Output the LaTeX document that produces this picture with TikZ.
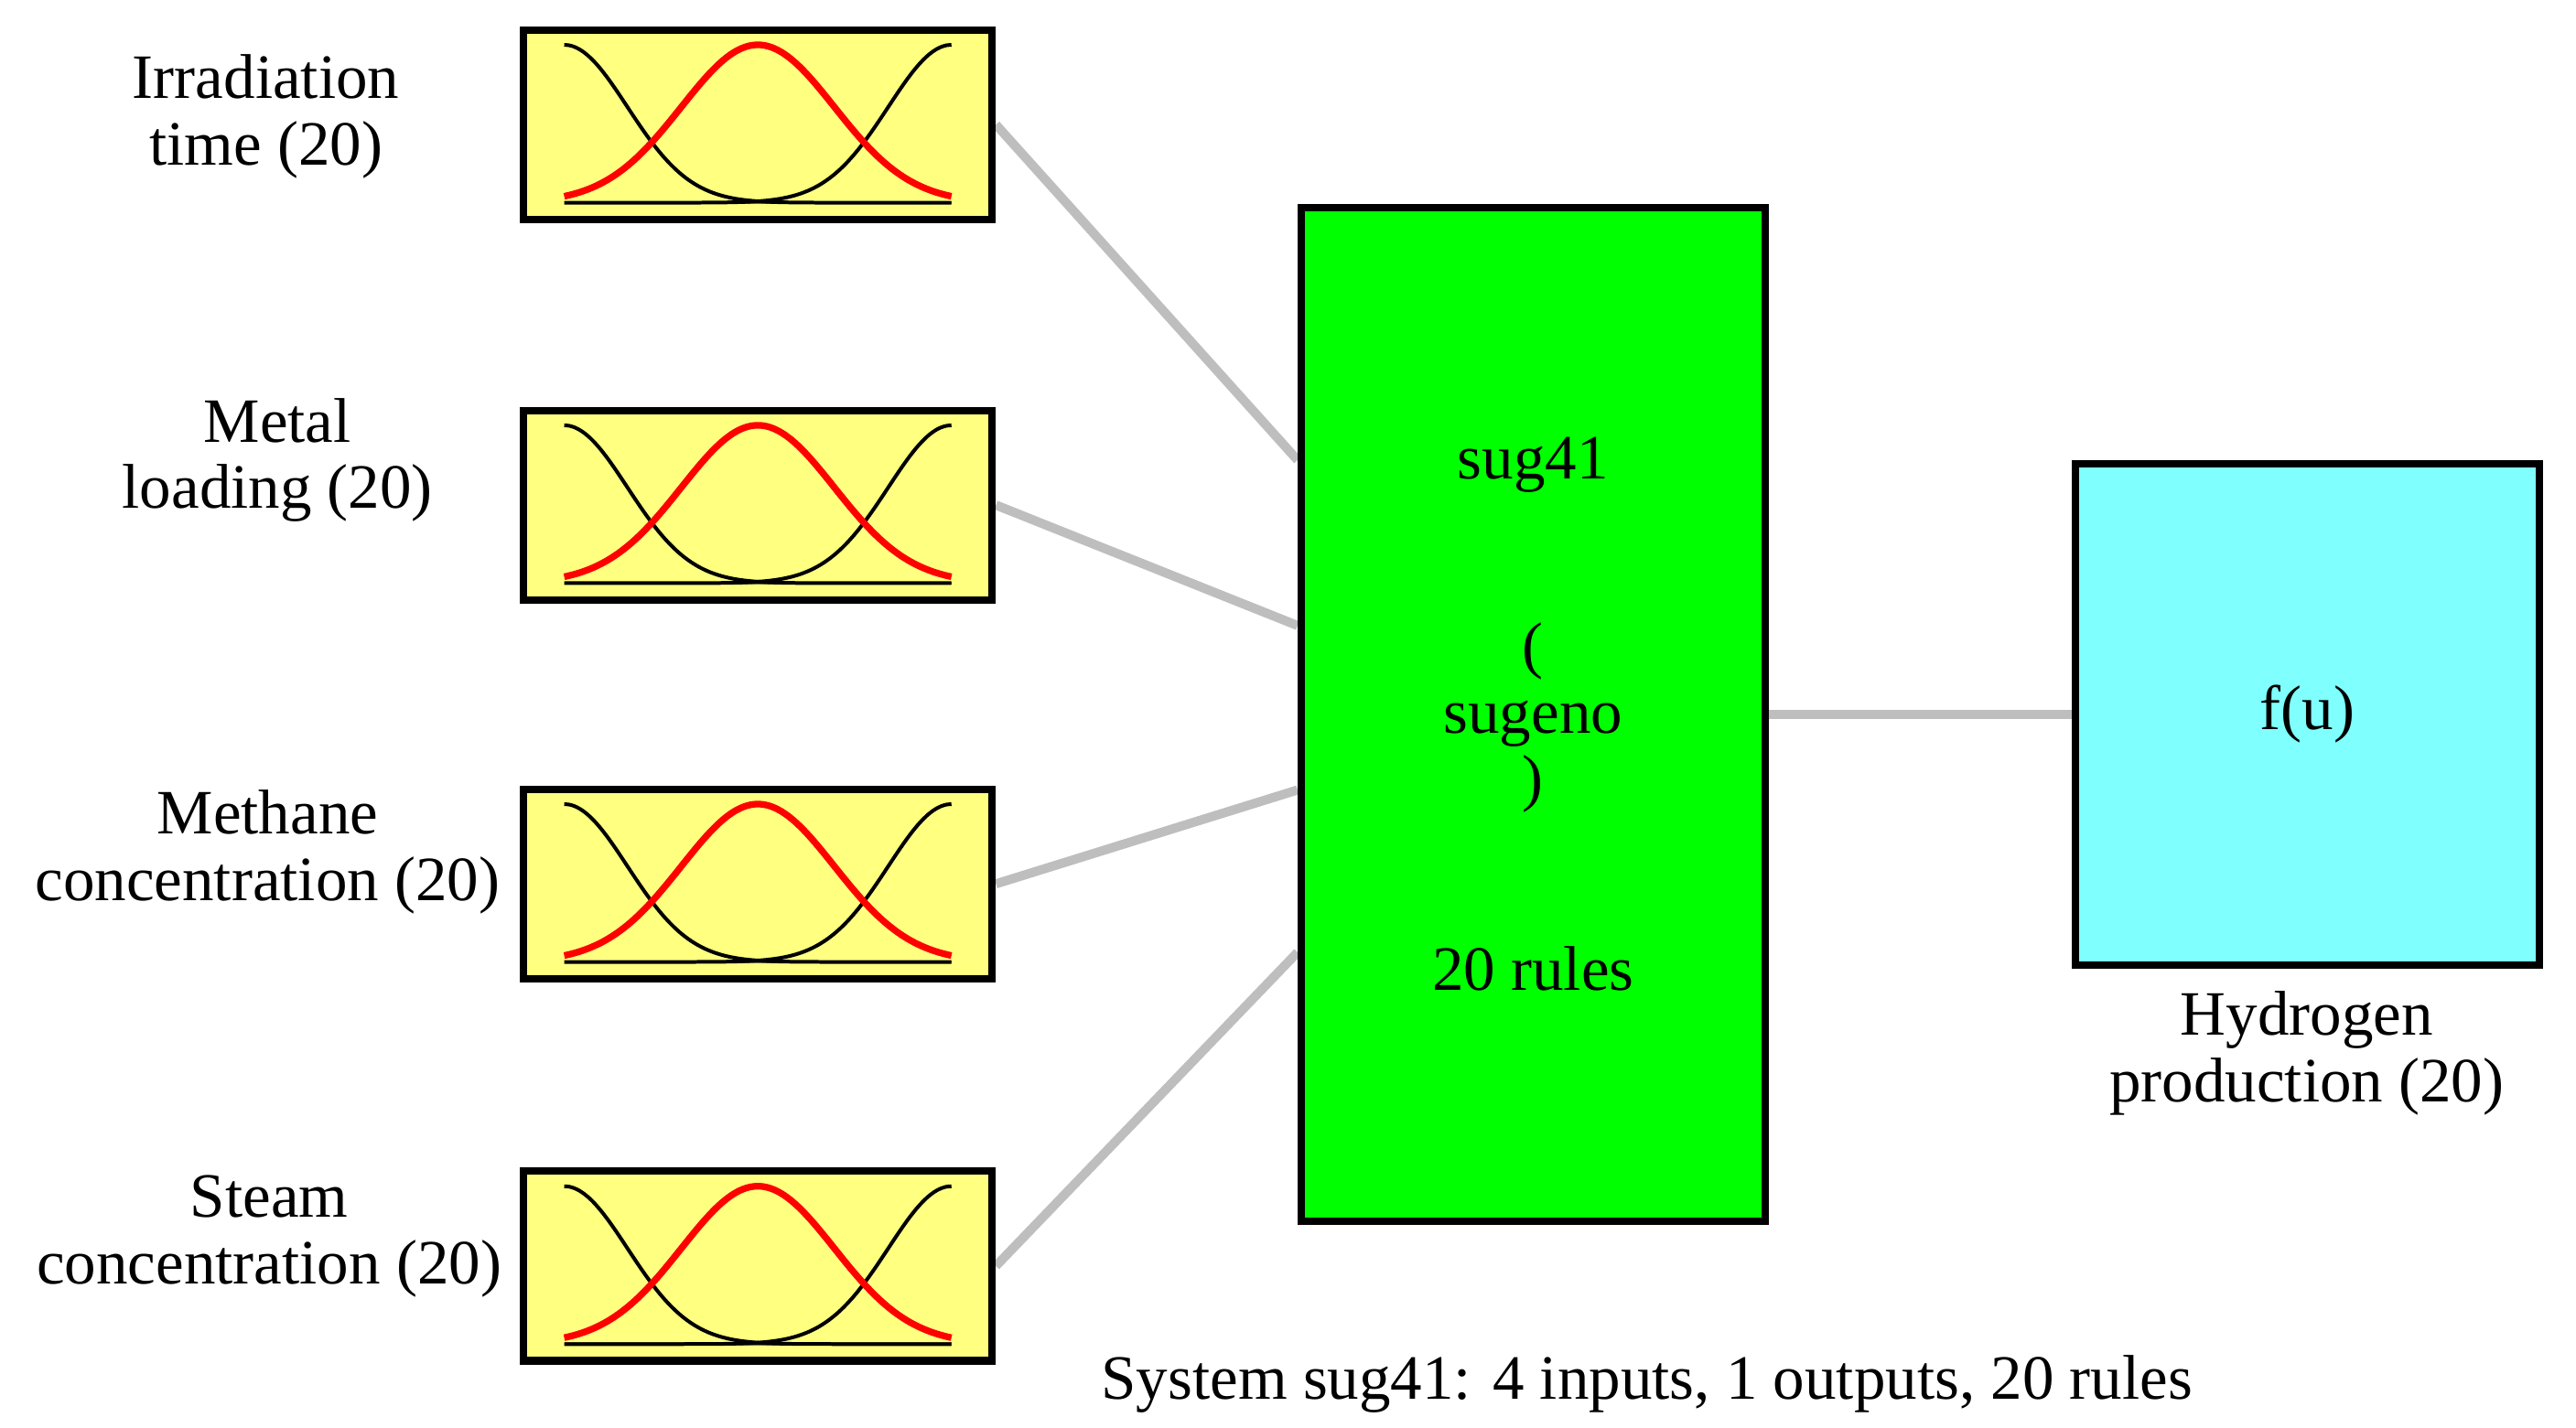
\documentclass[tikz,border=0pt]{standalone}
\usepackage{fontspec}
\setmainfont{Liberation Serif}
\usetikzlibrary{calc,backgrounds}
\definecolor{mfyellow}{RGB}{255,255,128}
\definecolor{fisgreen}{RGB}{0,255,0}
\definecolor{outcyan}{RGB}{128,255,255}
\definecolor{linkgray}{RGB}{190,190,190}
\definecolor{baseolive}{RGB}{120,120,60}
\tikzset{
  inbox/.style={draw=black, line width=4.5pt, fill=mfyellow, minimum width=282pt, minimum height=114pt, inner sep=0pt},
  fisbox/.style={draw=black, line width=4.5pt, fill=fisgreen, minimum width=279pt, minimum height=610pt, inner sep=0pt},
  outbox/.style={draw=black, line width=4.5pt, fill=outcyan, minimum width=279pt, minimum height=302pt, inner sep=0pt},
  lbl/.style={align=center, font=\fontsize{38}{40}\selectfont, inner sep=0pt},
  link/.style={draw=linkgray, line width=5.5pt},
  redmf/.style={draw=red, line width=4pt},
  blackmf/.style={draw=black, line width=2.2pt},
  basemf/.style={draw=baseolive, line width=2pt}
}
\newcommand{\mfcurves}[1]{%
  \begin{scope}[shift={(#1.center)}]
    \draw[basemf] (-116.5,47) -- (116.5,47);
    \draw[blackmf] plot[domain=-1:1, samples=80, smooth] ({116.5*\x}, {47-95*exp(-((\x+1)*(\x+1))/0.213)});
    \draw[blackmf] plot[domain=-1:1, samples=80, smooth] ({116.5*\x}, {47-95*exp(-((\x-1)*(\x-1))/0.213)});
    \draw[redmf] plot[domain=-1:1, samples=80, smooth] ({116.5*\x}, {47-95*exp(-(\x*\x)/0.312)});
  \end{scope}}
\begin{document}
\begin{tikzpicture}[x=1pt, y=-1pt]
  \useasboundingbox (0,0) rectangle (1550,859);
  % input boxes
  \node[inbox] (in1) at (456,75) {};
  \node[inbox] (in2) at (456,304) {};
  \node[inbox] (in3) at (456,532) {};
  \node[inbox] (in4) at (456,762) {};
  \mfcurves{in1}
  \mfcurves{in2}
  \mfcurves{in3}
  \mfcurves{in4}
  % input labels
  \node[lbl] (l1) at (160,70) {Irradiation\\time (20)};
  \node[lbl] (l2) at (167,277) {Metal\\loading (20)};
  \node[lbl] (l3) at (161,513) {Methane\\concentration (20)};
  \node[lbl] (l4) at (162,744) {Steam\\concentration (20)};
  % FIS box
  \node[fisbox] (fis) at (922.5,430) {};
  \node[lbl] (t1) at ($(fis.center)+(0,-150)$) {sug41};
  \node[lbl] (t2) at ($(fis.center)+(0,2)$) {(\\sugeno\\)};
  \node[lbl] (t3) at ($(fis.center)+(0,153)$) {20 rules};
  % output box
  \node[outbox] (out) at (1388.5,430) {};
  \node[lbl] (fu) at (out.center) {f(u)};
  \node[lbl] (ol) at (1388,634) {Hydrogen\\production (20)};
  % caption
  \node[lbl] (cap) at (991,833) {System sug41: 4 inputs, 1 outputs, 20 rules};
  % connectors
  \coordinate (p1) at ($(fis.north west)!0.251!(fis.south west)$);
  \coordinate (p2) at ($(fis.north west)!0.413!(fis.south west)$);
  \coordinate (p3) at ($(fis.north west)!0.574!(fis.south west)$);
  \coordinate (p4) at ($(fis.north west)!0.733!(fis.south west)$);
  \begin{scope}[on background layer]
    \draw[link] (in1.east) -- (p1);
    \draw[link] (in2.east) -- (p2);
    \draw[link] (in3.east) -- (p3);
    \draw[link] (in4.east) -- (p4);
    \draw[link] (fis.east) -- (out.west);
  \end{scope}
\end{tikzpicture}
\end{document}
